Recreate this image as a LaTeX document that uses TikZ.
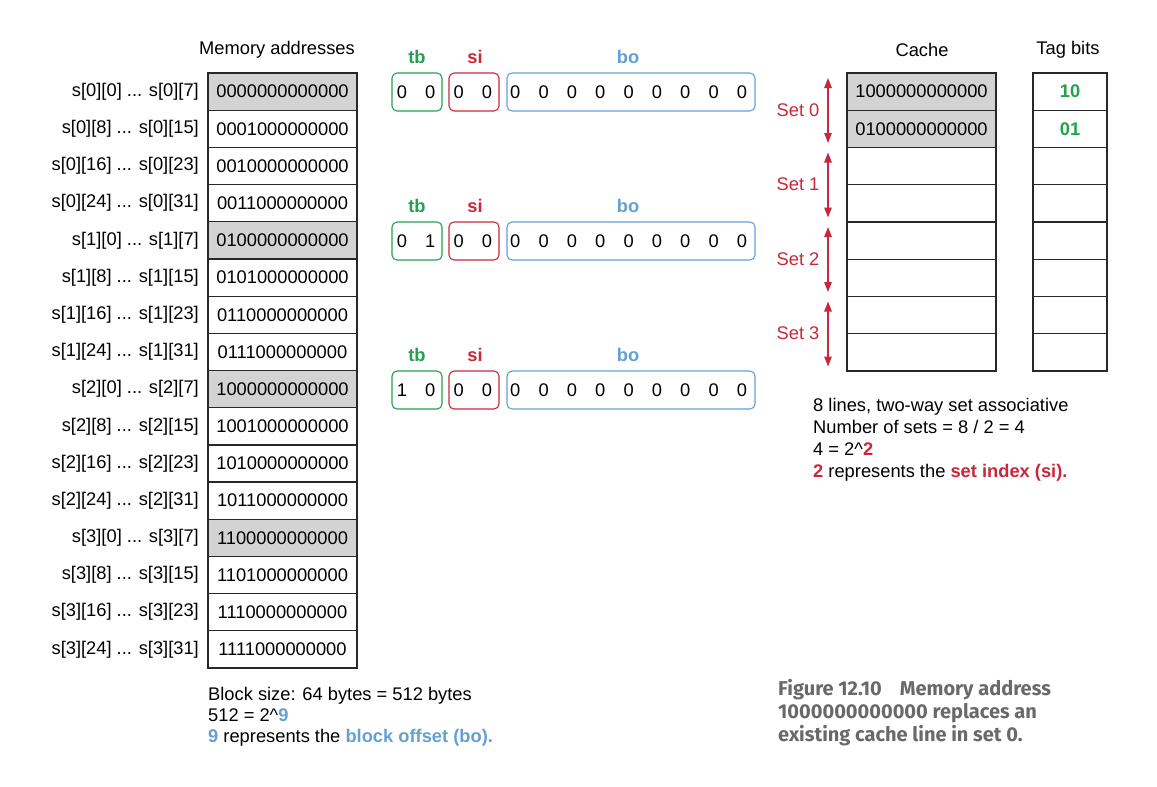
\documentclass[tikz,border=0pt]{standalone}
\usepackage{fontspec}
\setmainfont{Liberation Sans}
\newfontfamily\capfont{Fira Sans}
\usetikzlibrary{arrows.meta}
\definecolor{tbgreen}{RGB}{35,160,80}
\definecolor{sired}{RGB}{200,40,60}
\definecolor{boblue}{RGB}{100,160,210}
\definecolor{cellgray}{RGB}{211,211,211}
\definecolor{capgray}{RGB}{105,105,105}
\definecolor{linec}{RGB}{40,40,40}
\begin{document}
\begin{tikzpicture}[x=1pt,y=-1pt,
  every node/.style={font=\fontsize{18.3}{22}\selectfont, inner sep=0pt},
  memcell/.style={draw=linec, line width=1.2pt, minimum width=149pt, minimum height=37.2pt},
  shaded/.style={memcell, fill=cellgray},
  plain/.style={memcell},
  tagcell/.style={draw=linec, line width=1.2pt, minimum width=74pt, minimum height=37.2pt, text=tbgreen, font=\fontsize{18.3}{22}\selectfont\bfseries},
  rowlab/.style={anchor=east},
  bitbox/.style={draw, line width=1.1pt, rounded corners=5pt, minimum height=38pt},
  fieldlab/.style={font=\fontsize{18.3}{22}\selectfont\bfseries},
  setarrow/.style={draw=sired, line width=1.3pt, {Triangle[length=10pt,width=7.5pt]}-{Triangle[length=10pt,width=7.5pt]}},
  setlab/.style={text=sired},
  txt/.style={anchor=base west},
  captxt/.style={anchor=base west, text=capgray, font=\capfont\fontsize{20}{23}\selectfont\bfseries}
]
\useasboundingbox (0,0) rectangle (1157,787);

% Memory addresses table
\node (mhead) at (277,50) {Memory addresses};
\foreach \i/\st/\lab/\addr in {
 0/shaded/{s[0][0] ... s[0][7]}/0000000000000,
 1/plain/{s[0][8] ... s[0][15]}/0001000000000,
 2/plain/{s[0][16] ... s[0][23]}/0010000000000,
 3/plain/{s[0][24] ... s[0][31]}/0011000000000,
 4/shaded/{s[1][0] ... s[1][7]}/0100000000000,
 5/plain/{s[1][8] ... s[1][15]}/0101000000000,
 6/plain/{s[1][16] ... s[1][23]}/0110000000000,
 7/plain/{s[1][24] ... s[1][31]}/0111000000000,
 8/shaded/{s[2][0] ... s[2][7]}/1000000000000,
 9/plain/{s[2][8] ... s[2][15]}/1001000000000,
 10/plain/{s[2][16] ... s[2][23]}/1010000000000,
 11/plain/{s[2][24] ... s[2][31]}/1011000000000,
 12/shaded/{s[3][0] ... s[3][7]}/1100000000000,
 13/plain/{s[3][8] ... s[3][15]}/1101000000000,
 14/plain/{s[3][16] ... s[3][23]}/1110000000000,
 15/plain/{s[3][24] ... s[3][31]}/1111000000000}{
  \pgfmathsetmacro\yc{91.6+37.19*\i}
  \node[\st] (m\i) at (282.5,\yc) {\addr};
  \node[rowlab] (l\i) at (199,\yc) {\lab};
}

% Bit field rows
\foreach \r/\T/\ba/\bb in {1/73/0/0, 2/222/0/1, 3/371/1/0}{
  \pgfmathsetmacro\yc{\T+19}
  \pgfmathsetmacro\yl{\T-16}
  \node[fieldlab, text=tbgreen] (tbl\r) at (417,\yl) {tb};
  \node[fieldlab, text=sired] (sil\r) at (475,\yl) {si};
  \node[fieldlab, text=boblue] (bol\r) at (628,\yl) {bo};
  \node[bitbox, draw=tbgreen, minimum width=50pt] (tb\r) at (417,\yc) {};
  \node[bitbox, draw=sired, minimum width=50pt] (si\r) at (474,\yc) {};
  \node[bitbox, draw=boblue, minimum width=248pt] (bo\r) at (631,\yc) {};
  \node (d\r a) at (402,\yc) {\ba};
  \node (d\r b) at (430.3,\yc) {\bb};
  \foreach \k in {2,...,12}{
    \pgfmathsetmacro\xd{402+28.33*\k}
    \node (d\r n\k) at (\xd,\yc) {0};
  }
}

% Cache
\node (chead) at (922,50) {Cache};
\node (thead) at (1068,50) {Tag bits};
\foreach \k/\st/\addr/\tag in {0/shaded/1000000000000/10, 1/shaded/0100000000000/01,
  2/plain//, 3/plain//, 4/plain//, 5/plain//, 6/plain//, 7/plain//}{
  \pgfmathsetmacro\yc{91.6+37.25*\k}
  \node[\st] (c\k) at (921.5,\yc) {\addr};
  \node[tagcell] (t\k) at (1070,\yc) {\tag};
}

% Set arrows
\foreach \s in {0,1,2,3}{
  \pgfmathsetmacro\ya{78+74.5*\s}
  \pgfmathsetmacro\yb{143+74.5*\s}
  \pgfmathsetmacro\ym{110+74.5*\s}
  \coordinate (sa\s) at (828,\ya);
  \coordinate (sb\s) at (828,\yb);
  \draw[setarrow] (sa\s) -- (sb\s);
  \node[setlab] (set\s) at (798,\ym) {Set \s};
}

% Right text
\node[txt] (r1) at (813,411.5) {8 lines, two-way set associative};
\node[txt] (r2) at (813,433.5) {Number of sets = 8 / 2 = 4};
\node[txt] (r3) at (813,455.5) {4 = 2\textasciicircum\textcolor{sired}{\bfseries 2}};
\node[txt] (r4) at (813,477.5) {\textcolor{sired}{\bfseries 2} represents the \textcolor{sired}{\bfseries set index (si).}};

% Bottom-left text
\node[txt] (b1) at (208,700) {Block size: 64 bytes = 512 bytes};
\node[txt] (b2) at (208,721) {512 = 2\textasciicircum\textcolor{boblue}{\bfseries 9}};
\node[txt] (b3) at (208,742) {\textcolor{boblue}{\bfseries 9} represents the \textcolor{boblue}{\bfseries block offset (bo).}};

% Caption
\node[captxt] (cap1) at (778,695) {Figure 12.10\hspace{18pt}Memory address};
\node[captxt] (cap2) at (778,718) {1000000000000 replaces an};
\node[captxt] (cap3) at (778,741) {existing cache line in set 0.};
\end{tikzpicture}
\end{document}
